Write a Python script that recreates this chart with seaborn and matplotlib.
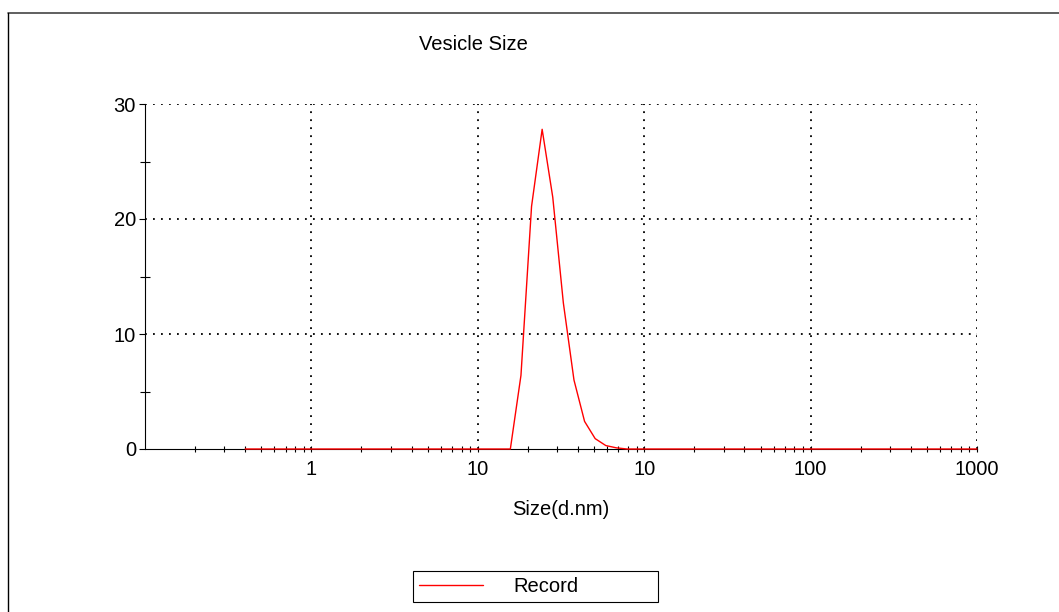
import numpy as np
import pandas as pd
import matplotlib
matplotlib.use("Agg")
import matplotlib.pyplot as plt
from matplotlib.lines import Line2D
from matplotlib.ticker import FixedLocator, FixedFormatter, LogLocator, NullFormatter
import seaborn as sns

# ---- data ----
size_nm = [
    0.4000, 0.4632, 0.5365, 0.6213, 0.7195, 0.8332, 0.9649, 1.117, 1.294, 1.499,
    1.736, 2.010, 2.328, 2.696, 3.122, 3.615, 4.187, 4.849, 5.615, 6.503,
    7.531, 8.721, 10.10, 11.70, 13.54, 15.69, 18.17, 21.04, 24.36, 28.21,
    32.67, 37.84, 43.82, 50.75, 58.77, 68.06, 78.82, 91.28, 105.7, 122.4,
    141.8, 164.2, 190.1, 220.2, 255.0, 295.3, 342.0, 396.1, 458.7, 531.2,
    615.1, 712.4, 825.0, 955.4, 1106, 1281, 1484, 1718, 1990, 2305,
    2669, 3091, 3580, 4145, 4801, 5560, 6439, 7456, 8635, 10000,
]
intensity = [
    0, 0, 0, 0, 0, 0, 0, 0, 0, 0,
    0, 0, 0, 0, 0, 0, 0, 0, 0, 0,
    0, 0, 0, 0, 0, 0, 6.4, 21.1, 27.8, 21.9,
    12.7, 6.0, 2.4, 0.9, 0.3, 0.1, 0, 0, 0, 0,
    0, 0, 0, 0, 0, 0, 0, 0, 0, 0,
    0, 0, 0, 0, 0, 0, 0, 0, 0, 0,
    0, 0, 0, 0, 0, 0, 0, 0, 0, 0,
]
x_tick_values = [1, 10, 100, 1000, 10000]
x_tick_labels = ["1", "10", "10", "100", "1000"]
y_tick_values = [0, 10, 20, 30]
y_minor_values = [5, 15, 25]
title_text = "Vesicle Size"
x_label = "Size(d.nm)"
series_name = "Record"

# ---- style ----
sns.set_style("white")
plt.rcParams['font.family'] = ['Liberation Sans', 'DejaVu Sans']
plt.rcParams['text.color'] = 'black'
plt.rcParams['axes.labelcolor'] = 'black'
plt.rcParams['xtick.color'] = 'black'
plt.rcParams['ytick.color'] = 'black'
FS = 14.5

W, H = 1059, 612
fig = plt.figure(figsize=(W / 100, H / 100), dpi=100)
ax = fig.add_axes([145 / W, 1 - 449 / H, (977 - 145) / W, (449 - 104) / H])

df = pd.DataFrame({"Size": size_nm, "Intensity": intensity,
                   "Series": [series_name] * len(size_nm)})
sns.lineplot(data=df, x="Size", y="Intensity", hue="Series",
             palette=["#ff0000"], ax=ax, linewidth=1.0, legend=True,
             estimator=None, sort=False)
for ln in ax.lines:
    ln.set_clip_on(False)
    ln.set_zorder(3)

ax.set_xscale("log")
ax.set_xlim(0.1, 10000)
ax.set_ylim(0, 30)

ax.xaxis.set_major_locator(FixedLocator(x_tick_values))
ax.xaxis.set_major_formatter(FixedFormatter(x_tick_labels))
ax.xaxis.set_minor_locator(LogLocator(base=10, subs=np.arange(2, 10)))
ax.xaxis.set_minor_formatter(NullFormatter())
ax.yaxis.set_major_locator(FixedLocator(y_tick_values))
ax.yaxis.set_minor_locator(FixedLocator(y_minor_values))

ax.tick_params(axis='x', which='both', direction='inout', length=4.5,
               width=0.8, color='black', labelcolor='black', labelsize=FS,
               pad=6, bottom=True)
ax.tick_params(axis='y', which='major', direction='out', length=4.5,
               width=0.8, color='black', labelcolor='black', labelsize=FS,
               pad=2, left=True)
ax.tick_params(axis='y', which='minor', direction='inout', length=6.5,
               width=0.8, color='black', left=True)

ax.grid(True, which='major', color='black', linestyle=(0, (1, 3.43)),
        linewidth=1.3)
ax.set_axisbelow(True)

for s in ['top', 'right']:
    ax.spines[s].set_visible(False)
for s in ['left', 'bottom']:
    ax.spines[s].set_color('black')
    ax.spines[s].set_linewidth(0.8)

ax.set_ylabel("")
ax.set_xlabel(x_label, fontsize=FS, color='black')
ax.xaxis.set_label_coords(0.5, -0.148)

fig.text(473 / W, 1 - 45 / H, title_text, ha='center', va='center',
         fontsize=FS, color='black')

handles, labels = ax.get_legend_handles_labels()
leg = ax.legend(handles, labels, loc='center left',
                bbox_to_anchor=(413 / W, 1 - 601 / H, 245 / W, 29 / H),
                bbox_transform=fig.transFigure, mode='expand',
                borderaxespad=0, frameon=True, fancybox=False, shadow=False,
                edgecolor='black', framealpha=1, fontsize=FS,
                handlelength=3.2, handletextpad=1.5, borderpad=0.3,
                labelcolor='black')
leg.get_frame().set_linewidth(0.8)

fig.canvas.draw()
# hide the gridline that would sit on top of the x axis at y = 0
for gl, val in zip(ax.yaxis.get_gridlines(), ax.yaxis.get_majorticklocs()):
    if val == 0:
        gl.set_visible(False)

# outer frame
fig.add_artist(Line2D([8 / W, 1], [1 - 12.7 / H] * 2, transform=fig.transFigure,
                      color='#444444', lw=1.2))
fig.add_artist(Line2D([8 / W, 8 / W], [0, 1 - 12.7 / H], transform=fig.transFigure,
                      color='black', lw=1.0))

fig.savefig("out.png", dpi=100)
